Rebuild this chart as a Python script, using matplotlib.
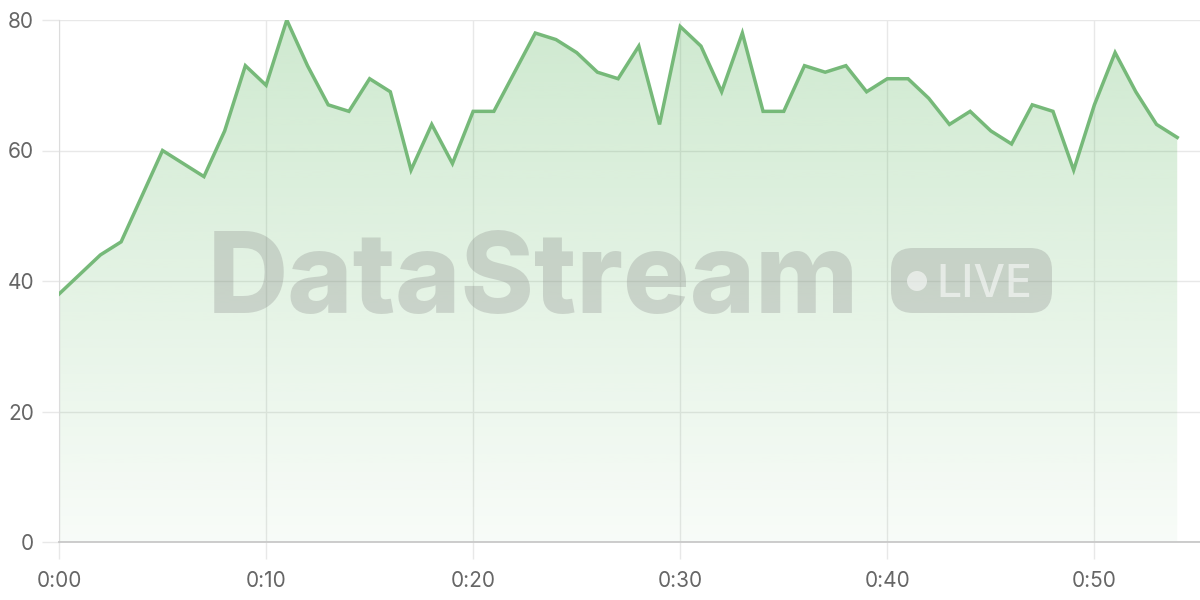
import numpy as np
import matplotlib.pyplot as plt
from matplotlib.patches import FancyBboxPatch, Circle
from matplotlib.colors import to_rgb

plt.rcParams['font.family'] = ['Inter', 'DejaVu Sans']

# data: one reading per minute
minutes = list(range(55))
values = [38, 41, 44, 46, 53, 60, 58, 56, 63, 73,
          70, 80, 73, 67, 66, 71, 69, 57, 64, 58,
          66, 66, 72, 78, 77, 75, 72, 71, 76, 64,
          79, 76, 69, 78, 66, 66, 73, 72, 73, 69,
          71, 71, 68, 64, 66, 63, 61, 67, 66, 57,
          67, 75, 69, 64, 62]
xticks = [0, 10, 20, 30, 40, 50]
xtick_labels = ['0:00', '0:10', '0:20', '0:30', '0:40', '0:50']
yticks = [0, 20, 40, 60, 80]

line_color = '#76b979'
fill_color = '#4caf50'
grid_color = '#e8e8e8'

fig = plt.figure(figsize=(12, 6), dpi=100)
ax = fig.add_axes([59/1200, 58/600, 1141/1200, 522/600])

x = np.array(minutes)
y = np.array(values)

# gradient fill under the line
poly = ax.fill_between(x, y, 0, color='none', lw=0)
grad = np.zeros((256, 1, 4))
grad[:, :, :3] = to_rgb(fill_color)
grad[:, 0, 3] = np.linspace(0.27, 0.04, 256)
img = ax.imshow(grad, extent=[0, x.max(), 0, 80], aspect='auto', zorder=1,
                interpolation='bicubic')
img.set_clip_path(poly.get_paths()[0], transform=ax.transData)
ax.set_ylim(0, 80)
ax.set_xlim(0, 55.1)

ax.plot(x, y, color=line_color, lw=2.5, zorder=4, solid_joinstyle='miter')

# watermark
wm = '#7f7f7f'
fig.text(208/1200, 1 - 313/600, 'DataStream', fontsize=80, fontweight='heavy',
         color=wm, alpha=0.27, ha='left', va='baseline', zorder=3)
badge = FancyBboxPatch((891, 600 - 313), 161, 65, boxstyle='round,pad=0,rounding_size=22',
                       transform=None, facecolor=wm, edgecolor='none', alpha=0.27, zorder=3)
fig.patches.append(badge)
dot = Circle((917, 600 - 281), 10, transform=None, facecolor='white', alpha=0.55,
             edgecolor='none', zorder=3)
fig.patches.append(dot)
fig.text(936/1200, 1 - 297/600, 'LIVE', fontsize=32, fontweight='medium', color='white',
         alpha=0.55, ha='left', va='baseline', zorder=3)

# axes styling
ax.set_xticks(xticks)
ax.set_xticklabels(xtick_labels)
ax.set_yticks(yticks)
ax.grid(True, color=grid_color, lw=1)
ax.set_axisbelow(True)
for s in ['top', 'right']:
    ax.spines[s].set_visible(False)
ax.spines['left'].set_color('#dcdcdc')
ax.spines['bottom'].set_color('#c8c8c8')
ax.spines['bottom'].set_linewidth(1.3)
ax.tick_params(axis='both', length=12, width=1, color=grid_color, labelsize=15,
               labelcolor='#666666', pad=6)
ax.tick_params(axis='x', pad=9)

fig.savefig('out.png', dpi=100)
